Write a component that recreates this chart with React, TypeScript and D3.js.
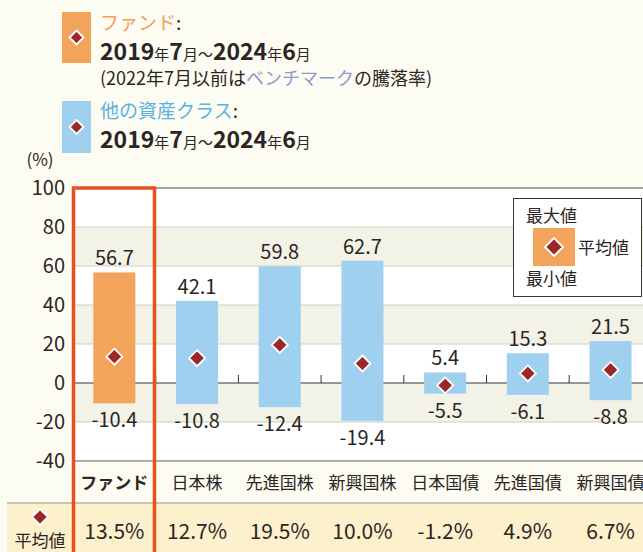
import React from "react";
import * as d3 from "d3";

const categories = ["ファンド", "日本株", "先進国株", "新興国株", "日本国債", "先進国債", "新興国債"];
const maxValues = [56.7, 42.1, 59.8, 62.7, 5.4, 15.3, 21.5];
const minValues = [-10.4, -10.8, -12.4, -19.4, -5.5, -6.1, -8.8];
const avgValues = [13.5, 12.7, 19.5, 10.0, -1.2, 4.9, 6.7];
const yTicks = [100, 80, 60, 40, 20, 0, -20, -40];

const W = 643;
const H = 552;
const FONT = "'Noto Sans CJK JP', 'Noto Sans', sans-serif";
const ORANGE = "#f2a45a";
const BLUE = "#a0d0ef";
const DIAMOND = "#9a2828";
const TXT = "#2b2523";
const CREAM = "#fdfcf3";
const BAND = "#f3f2e7";
const PEACH = "#fdf0cd";
const RED = "#e8501c";

const PLOT_L = 73;
const STEP = 82.7;

const x = d3
  .scaleBand<string>()
  .domain(categories)
  .range([PLOT_L, PLOT_L + STEP * categories.length])
  .paddingInner(0)
  .paddingOuter(0);
const y = d3.scaleLinear().domain([-40, 100]).range([461, 188]);

const BAR_W = 42;

function Diamond({ cx, cy, r = 8 }: { cx: number; cy: number; r?: number }) {
  const p = `M${cx},${cy - r}L${cx + r},${cy}L${cx},${cy + r}L${cx - r},${cy}Z`;
  return <path d={p} fill={DIAMOND} stroke="#fff" strokeWidth={1.8} />;
}

export default function App() {
  const bands: [number, number][] = [];
  for (let i = 0; i < yTicks.length - 1; i++) bands.push([yTicks[i], yTicks[i + 1]]);
  const plotR = W + 20;

  return (
    <svg width={W} height={H} style={{ position: "absolute", left: 0, top: 0, fontFamily: FONT }}>
      <rect x={0} y={0} width={W} height={H} fill={CREAM} />

      {/* top legend */}
      <rect x={62} y={12} width={29} height={51} fill={ORANGE} />
      <Diamond cx={76.5} cy={37.5} r={7} />
      <text x={100} y={30} fontSize={19} fill={TXT}>
        <tspan fill="#f0a050">ファンド</tspan>:
      </text>
      <text x={100} y={60} fill={TXT} fontWeight="bold" fontSize={23}>
        2019<tspan fontSize={15} fontWeight="normal">年</tspan>7
        <tspan fontSize={15} fontWeight="normal">月～</tspan>2024
        <tspan fontSize={15} fontWeight="normal">年</tspan>6
        <tspan fontSize={15} fontWeight="normal">月</tspan>
      </text>
      <text x={100} y={85} fontSize={18} fill={TXT}>
        (2022年7月以前は<tspan fill="#8c9ad0">ベンチマーク</tspan>の騰落率)
      </text>
      <rect x={62} y={101} width={29} height={52} fill={BLUE} />
      <Diamond cx={76.5} cy={127} r={7} />
      <text x={100} y={118} fontSize={19} fill={TXT}>
        <tspan fill="#5ab2e2">他の資産クラス</tspan>:
      </text>
      <text x={100} y={148} fill={TXT} fontWeight="bold" fontSize={23}>
        2019<tspan fontSize={15} fontWeight="normal">年</tspan>7
        <tspan fontSize={15} fontWeight="normal">月～</tspan>2024
        <tspan fontSize={15} fontWeight="normal">年</tspan>6
        <tspan fontSize={15} fontWeight="normal">月</tspan>
      </text>

      {/* plot bands */}
      {bands.map(([a, b], i) => (
        <rect
          key={i}
          x={PLOT_L}
          y={y(a)}
          width={plotR - PLOT_L}
          height={y(b) - y(a)}
          fill={i % 2 === 1 ? BAND : "#ffffff"}
        />
      ))}
      {yTicks.map((t) => (
        <line
          key={t}
          x1={PLOT_L}
          x2={plotR}
          y1={y(t)}
          y2={y(t)}
          stroke={t === 100 || t === -40 ? "#8a8682" : t === 0 ? "#3a3432" : "#cfcdc8"}
          strokeWidth={t === 0 ? 1.2 : t === 100 || t === -40 ? 1.6 : 1.2}
        />
      ))}
      {categories.slice(1).map((c) => (
        <line key={c} x1={x(c)!} x2={x(c)!} y1={y(0)} y2={y(0) - 8} stroke="#3a3432" strokeWidth={1} />
      ))}
      {yTicks.map((t) => (
        <text key={t} x={65} y={y(t) + 7} fontSize={20} textAnchor="end" fill={TXT}>
          {t}
        </text>
      ))}
      <text x={40} y={166} fontSize={17} textAnchor="middle" fill={TXT}>
        (%)
      </text>

      {/* bars */}
      {categories.map((c, i) => {
        const cx = x(c)! + x.bandwidth() / 2;
        return (
          <g key={c}>
            <rect
              x={cx - BAR_W / 2}
              y={y(maxValues[i])}
              width={BAR_W}
              height={y(minValues[i]) - y(maxValues[i])}
              fill={i === 0 ? ORANGE : BLUE}
            />
            <text x={cx} y={y(maxValues[i]) - 7} fontSize={20} textAnchor="middle" fill={TXT}>
              {maxValues[i].toFixed(1)}
            </text>
            <text x={cx} y={y(minValues[i]) + 24} fontSize={20} textAnchor="middle" fill={TXT}>
              {minValues[i].toFixed(1)}
            </text>
            <Diamond cx={cx} cy={y(avgValues[i])} r={8} />
          </g>
        );
      })}

      {/* inner legend */}
      <rect x={513.5} y={198.5} width={128} height={98} fill="#fff" stroke="#3a3432" strokeWidth={1} />
      <text x={526} y={222} fontSize={17} fill={TXT}>最大値</text>
      <rect x={533} y={228} width={42} height={38} fill={ORANGE} />
      <Diamond cx={554} cy={247} r={9} />
      <text x={578} y={254} fontSize={17} fill={TXT}>平均値</text>
      <text x={526} y={285} fontSize={17} fill={TXT}>最小値</text>

      {/* category row */}
      <rect x={PLOT_L} y={461.8} width={plotR - PLOT_L} height={41} fill={CREAM} />
      {categories.map((c, i) => (
        <text
          key={c}
          x={x(c)! + x.bandwidth() / 2}
          y={489}
          fontSize={17}
          textAnchor="middle"
          fill={TXT}
          fontWeight={i === 0 ? "bold" : "normal"}
        >
          {c}
        </text>
      ))}

      {/* average row */}
      <rect x={7} y={503} width={W} height={H - 503} fill={PEACH} />
      <line x1={7} x2={W} y1={503} y2={503} stroke="#9c8f80" strokeWidth={1.2} />
      <Diamond cx={40} cy={517} r={8} />
      <text x={40} y={547} fontSize={17} textAnchor="middle" fill={TXT}>平均値</text>
      {categories.map((c, i) => (
        <text key={c} x={x(c)! + x.bandwidth() / 2} y={539} fontSize={21} textAnchor="middle" fill={TXT}>
          {avgValues[i].toFixed(1)}%
        </text>
      ))}

      {/* highlight frame */}
      <rect x={73.5} y={188} width={81} height={H} fill="none" stroke={RED} strokeWidth={3.5} />
    </svg>
  );
}
